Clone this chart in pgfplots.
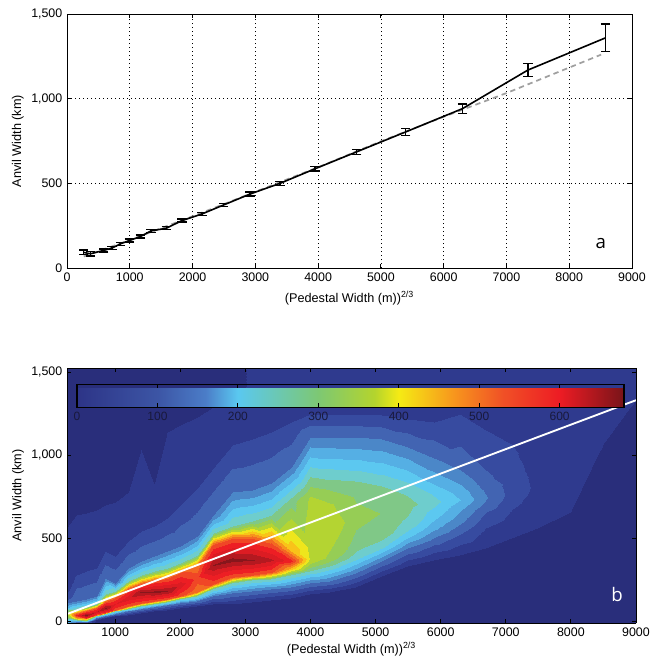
\documentclass[border=0pt]{standalone}
\usepackage{pgfplots}
\pgfplotsset{compat=1.18}
\usepackage{pgfplotstable}
\usepackage{fontspec}
\setmainfont{Liberation Sans}
\newfontfamily\panelfont{Open Sans}
\usetikzlibrary{calc}

\definecolor{cbtext}{RGB}{25,25,60}

% mean anvil width per pedestal bin, with error
\pgfplotstableread{
x y e
267 92 14
374 84 14
585 104 9
719 118 9
851 143 9
994 162 9
1169 186 9
1339 219 9
1582 235 9
1831 280 9
2149 319 9
2493 372 10
2917 437 11
3394 500 11
3951 586 13
4614 686 15
5397 804 20
6299 941 27
7342 1169 39
8577 1359 81
}\meanwidth

% fitted curve (dashed)
\pgfplotstableread{
x y
267 68
1000 165
2000 305
3000 450
4000 595
5000 748
6000 893
7000 1033
8508 1260
}\fitline

% 2d histogram, one block of 12 points per pedestal bin
\pgfplotstableread{
x y v
250 -20 150
250 -5 200
250 10 250
250 25 280
250 35 300
250 45 310
250 60 272
250 80 200
250 120 100
250 200 45
250 560 34
250 1530 0
400 -20 100
400 -8 136
400 5 272
400 18 442
400 28 520
400 38 560
400 52 442
400 75 272
400 120 136
400 280 68
400 640 34
400 1530 0
550 -20 60
550 -8 120
550 3 272
550 12 442
550 20 560
550 38 660
550 58 520
550 85 272
550 135 136
550 300 68
550 650 34
550 1530 0
700 -20 0
700 8 34
700 18 136
700 28 272
700 36 520
700 55 600
700 80 520
700 100 272
700 150 136
700 320 68
700 670 34
700 1530 0
850 -20 0
850 18 34
850 32 136
850 42 272
850 50 520
850 78 660
850 115 520
850 165 272
850 260 136
850 420 68
850 700 34
850 1530 0
1000 -20 0
1000 28 34
1000 45 136
1000 58 272
1000 68 520
1000 105 580
1000 138 520
1000 178 272
1000 230 136
1000 390 68
1000 720 34
1000 1530 0
1200 -20 0
1200 38 34
1200 58 136
1200 75 272
1200 88 520
1200 140 600
1200 190 520
1200 240 272
1200 320 136
1200 480 68
1200 780 34
1200 1530 0
1400 -20 0
1400 48 34
1400 72 136
1400 92 272
1400 110 520
1400 172 655
1400 225 520
1400 280 272
1400 360 136
1400 540 68
1400 1040 34
1400 1530 0
1600 -20 0
1600 58 34
1600 85 136
1600 105 272
1600 122 520
1600 175 660
1600 240 520
1600 300 272
1600 390 136
1600 570 68
1600 830 34
1600 1530 0
1800 -20 0
1800 68 34
1800 95 136
1800 115 272
1800 132 520
1800 178 650
1800 255 520
1800 320 272
1800 420 136
1800 620 68
1800 1140 34
1800 1530 0
2000 -20 0
2000 78 34
2000 108 136
2000 132 272
2000 152 520
2000 220 600
2000 290 520
2000 350 272
2000 450 136
2000 700 68
2000 1180 34
2000 1530 0
2250 -20 0
2250 88 34
2250 120 136
2250 150 272
2250 175 480
2250 260 530
2250 340 480
2250 400 272
2250 510 136
2250 800 68
2250 1230 34
2250 1530 0
2500 -20 0
2500 100 34
2500 150 136
2500 190 272
2500 225 520
2500 340 650
2500 460 520
2500 530 272
2500 640 136
2500 920 68
2500 1290 34
2500 1530 0
2800 -20 0
2800 105 34
2800 170 136
2800 230 272
2800 265 520
2800 365 660
2800 495 520
2800 570 272
2800 780 136
2800 1060 68
2800 1320 34
2800 1530 20
3100 -20 0
3100 115 34
3100 180 136
3100 245 272
3100 280 520
3100 370 650
3100 495 520
3100 600 272
3100 790 136
3100 1100 68
3100 1350 40
3100 1530 40
3400 -20 0
3400 125 34
3400 190 136
3400 255 272
3400 295 520
3400 370 620
3400 465 520
3400 640 272
3400 830 136
3400 1140 68
3400 1400 40
3400 1530 40
3700 -20 0
3700 140 34
3700 205 136
3700 280 272
3700 320 442
3700 360 560
3700 420 442
3700 720 290
3700 930 136
3700 1200 68
3700 1400 40
3700 1530 40
4000 -20 0
4000 160 34
4000 230 136
4000 300 272
4000 350 345
4000 380 370
4000 450 362
4000 740 345
4000 1110 136
4000 1250 68
4000 1330 34
4000 1530 40
4300 -20 0
4300 175 34
4300 240 136
4300 330 272
4300 380 330
4300 560 368
4300 700 345
4300 800 300
4300 1110 136
4300 1250 68
4300 1330 34
4300 1530 40
4700 -20 0
4700 205 34
4700 290 136
4700 380 250
4700 450 290
4700 620 318
4700 760 300
4700 840 275
4700 1110 136
4700 1250 68
4700 1330 34
4700 1530 40
5100 -20 0
5100 270 34
5100 360 136
5100 440 240
5100 500 280
5100 650 305
5100 780 290
5100 840 260
5100 1100 136
5100 1240 68
5100 1320 34
5100 1530 40
5500 -20 0
5500 330 34
5500 440 136
5500 520 220
5500 580 260
5500 700 285
5500 760 270
5500 830 240
5500 1050 136
5500 1220 68
5500 1310 40
5500 1530 40
5900 -20 0
5900 370 34
5900 480 120
5900 560 180
5900 640 220
5900 720 250
5900 780 230
5900 850 190
5900 980 136
5900 1200 68
5900 1300 40
5900 1530 40
6300 -20 0
6300 400 34
6300 520 100
6300 610 150
6300 680 180
6300 730 205
6300 780 190
6300 850 160
6300 950 120
6300 1250 68
6300 1310 40
6300 1530 40
6700 -20 0
6700 440 34
6700 560 68
6700 650 100
6700 700 125
6700 740 140
6700 790 130
6700 860 110
6700 950 95
6700 1150 68
6700 1300 45
6700 1530 40
7100 -20 0
7100 500 34
7100 580 50
7100 660 65
7100 720 78
7100 780 88
7100 850 84
7100 920 78
7100 1000 72
7100 1100 66
7100 1300 50
7100 1530 45
7500 -20 0
7500 560 34
7500 640 42
7500 700 50
7500 760 56
7500 820 60
7500 880 58
7500 950 56
7500 1050 54
7500 1150 52
7500 1300 50
7500 1530 45
8000 -20 0
8000 660 34
8000 740 38
8000 800 42
8000 860 44
8000 920 45
8000 980 45
8000 1050 45
8000 1120 44
8000 1200 43
8000 1300 42
8000 1530 40
8500 -20 0
8500 1060 34
8500 1100 37
8500 1150 38
8500 1200 39
8500 1250 40
8500 1300 40
8500 1340 40
8500 1380 40
8500 1430 40
8500 1480 40
8500 1530 40
9000 -20 0
9000 1330 34
9000 1350 36
9000 1370 37
9000 1390 38
9000 1410 38
9000 1430 38
9000 1450 38
9000 1470 38
9000 1490 38
9000 1510 38
9000 1530 38
}\density

\pgfplotsset{
  colormap={anvilc}{rgb255(0pt)=(45,52,135); rgb255(100pt)=(60,85,165); rgb255(160pt)=(75,125,200);
    rgb255(200pt)=(90,200,240); rgb255(300pt)=(125,200,115); rgb255(370pt)=(180,212,45);
    rgb255(400pt)=(245,235,20); rgb255(470pt)=(247,148,29); rgb255(530pt)=(240,80,38);
    rgb255(600pt)=(237,28,36); rgb255(680pt)=(120,20,25)},
  colormap={anvild}{rgb255(0pt)=(41,46,123); rgb255(34pt)=(47,58,142); rgb255(68pt)=(55,75,160);
    rgb255(102pt)=(66,100,178); rgb255(136pt)=(75,135,200); rgb255(170pt)=(85,175,228);
    rgb255(204pt)=(92,200,240); rgb255(238pt)=(110,205,205); rgb255(272pt)=(128,200,135);
    rgb255(306pt)=(150,205,85); rgb255(340pt)=(180,212,50); rgb255(374pt)=(238,230,28);
    rgb255(408pt)=(249,195,25); rgb255(442pt)=(247,148,29); rgb255(476pt)=(243,105,35);
    rgb255(510pt)=(240,70,38); rgb255(544pt)=(237,30,36); rgb255(578pt)=(220,28,35);
    rgb255(612pt)=(180,25,32); rgb255(646pt)=(135,22,28); rgb255(680pt)=(135,22,28)},
  panel/.style={
    scale only axis,
    tick align=inside, tick pos=both, major tick length=3pt,
    axis line style={line width=0.7pt},
    every tick/.style={black, line width=0.6pt},
    /pgf/number format/assume math mode=true,
    xticklabel style={/pgf/number format/1000 sep={}},
    yticklabel style={/pgf/number format/.cd, fixed, 1000 sep={,}},
    tick label style={font=\fontsize{9.3}{11}\selectfont},
    label style={font=\fontsize{9.5}{11}\selectfont},
    xlabel={(Pedestal Width (m))\textsuperscript{2/3}},
    ylabel={Anvil Width (km)},
    ytick={0,500,1000,1500},
  },
}

\begin{document}
\begin{tikzpicture}
\useasboundingbox (0,0) rectangle (488.25pt,-495pt);

% panel a
\begin{axis}[panel,
    at={(50.25pt,-201pt)}, anchor=south west,
    width=423.75pt, height=190.5pt,
    xmin=0, xmax=9000, ymin=0, ymax=1500,
    xtick={0,1000,...,9000},
    grid=major,
    grid style={black, line width=0.5pt, dash pattern=on 0.6pt off 2.4pt},
    xlabel style={at={(axis description cs:0.5,-0.118)}, anchor=center},
    ylabel style={at={(axis description cs:-0.087,0.5)}, anchor=center},
]
\addplot[color=gray!75, line width=1.3pt, dash pattern=on 4pt off 3pt] table[x=x, y=y] {\fitline};
\addplot[black, line width=1.2pt, mark=none,
    error bars/.cd, y dir=both, y explicit,
    error bar style={line width=1pt, black},
    error mark options={rotate=90, mark size=3.5pt, line width=1pt, black}]
    table[x=x, y=y, y error=e] {\meanwidth};
\node[font=\panelfont\fontsize{14}{16}\selectfont] at (axis description cs:0.945,0.098) {a};
\end{axis}

% panel b
\begin{axis}[panel,
    at={(50.25pt,-467.25pt)}, anchor=south west,
    width=426.75pt, height=191.25pt,
    view={0}{90},
    xmin=260, xmax=9000, ymin=-12, ymax=1525,
    xtick={1000,2000,...,9000}, ztick=\empty,
    axis on top,
    colormap name=anvild, colormap access=piecewise constant,
    point meta min=0, point meta max=680,
    xlabel style={at={(axis description cs:0.5,-0.102)}, anchor=center},
    ylabel style={at={(axis description cs:-0.086,0.5)}, anchor=center},
    colorbar horizontal,
    colorbar style={
        at={($(parent axis.north west)+(7.5pt,-3.75pt)$)}, anchor=north west,
        scale only axis, width=410.25pt, height=17.25pt,
        colormap name=anvilc, colormap access=map,
        xtick={0,100,...,600}, tick align=inside, tick pos=both,
        major tick length=3pt,
        axis line style={black, line width=0.8pt},
        /pgf/number format/assume math mode=true,
        xticklabel pos=lower,
        xticklabel style={font=\fontsize{9}{11}\selectfont, text=cbtext},
    },
]
\addplot3[surf, shader=interp, mesh/cols=12, point meta=\thisrow{v}]
    table[x=x, y=y, z=v] {\density};
\addplot3[white, line width=1.4pt, mark=none] coordinates {(260,42,700) (9000,1331,700)};
\node[white, font=\panelfont\fontsize{14}{16}\selectfont] at (axis description cs:0.967,0.11) {b};
\end{axis}
\end{tikzpicture}
\end{document}
